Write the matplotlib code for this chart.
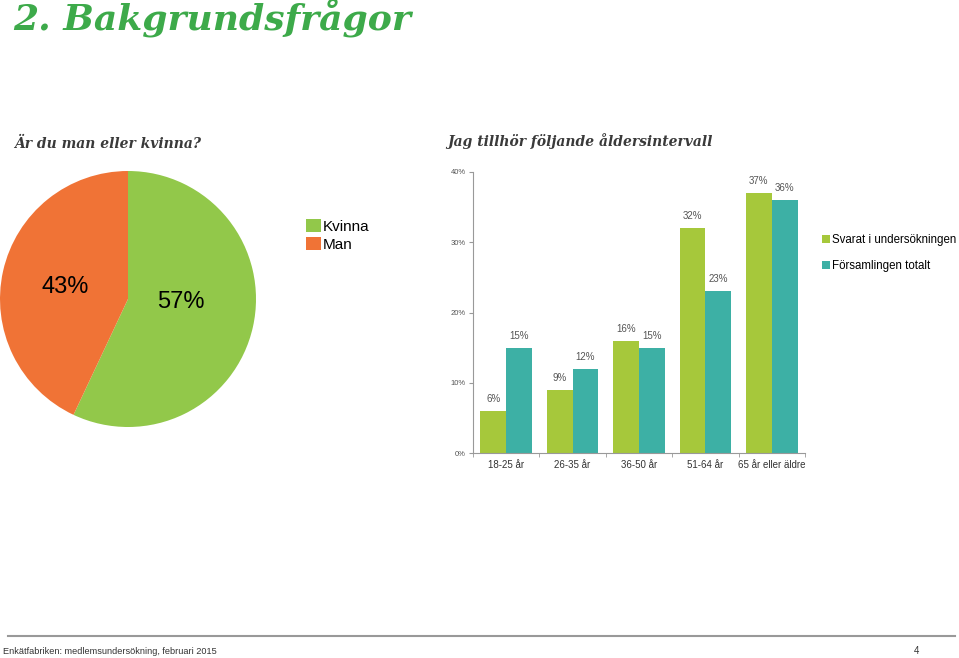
import matplotlib.pyplot as plt
import numpy as np

# data
pie_labels = ["Kvinna", "Man"]
pie_values = [57, 43]
pie_colors = ["#92C84A", "#F07336"]

age_groups = ["18-25 år", "26-35 år", "36-50 år", "51-64 år", "65 år eller äldre"]
svarat = [6, 9, 16, 32, 37]
forsamlingen = [15, 12, 15, 23, 36]
series_names = ["Svarat i undersökningen", "Församlingen totalt"]
bar_colors = ["#A6C83B", "#3DB0A5"]
y_ticks = [0, 10, 20, 30, 40]

W, H = 959, 658
plt.rcParams["font.family"] = ["Liberation Sans", "DejaVu Sans"]
fig = plt.figure(figsize=(W / 100, H / 100), dpi=100)

def fx(px):
    return px / W

def fy(py):
    return 1 - py / H

# headings
serif = ["DejaVu Serif"]
fig.text(fx(13), fy(31), "2. Bakgrundsfrågor", family=serif, style="italic", weight="heavy",
         fontsize=26, color="#3DAA4A", va="baseline", ha="left")
fig.text(fx(14), fy(148), "Är du man eller kvinna?", family=serif, style="italic", weight="bold",
         fontsize=10, color="#3a3a3a", va="baseline", ha="left")
fig.text(fx(447), fy(146), "Jag tillhör följande åldersintervall", family=serif, style="italic",
         weight="bold", fontsize=10, color="#3a3a3a", va="baseline", ha="left")

# pie chart
ax_pie = fig.add_axes([fx(0), fy(427), fx(256), 256 / H])
wedges, _ = ax_pie.pie(pie_values, colors=pie_colors, startangle=90, counterclock=False,
                       wedgeprops=dict(linewidth=0))
ax_pie.set_xlim(-1, 1)
ax_pie.set_ylim(-1, 1)
ax_pie.set_aspect("equal")
fig.text(fx(181), fy(302), f"{pie_values[0]}%", fontsize=17, ha="center", va="center")
fig.text(fx(65), fy(287), f"{pie_values[1]}%", fontsize=17, ha="center", va="center")
ax_pie.legend(wedges, pie_labels, loc="upper left", bbox_to_anchor=(fx(298), fy(211)),
              bbox_transform=fig.transFigure, frameon=False, fontsize=11,
              handlelength=1.0, handleheight=1.0, handletextpad=0.15, labelspacing=0.2,
              borderpad=0)

# bar chart
ax = fig.add_axes([fx(473), fy(453), fx(805) - fx(473), (453 - 172) / H])
x = np.arange(len(age_groups))
w = 0.39
b1 = ax.bar(x - w / 2, svarat, w, color=bar_colors[0], label=series_names[0])
b2 = ax.bar(x + w / 2, forsamlingen, w, color=bar_colors[1], label=series_names[1])
for bars in (b1, b2):
    for r in bars:
        ax.text(r.get_x() + r.get_width() / 2, r.get_height() + 1.0, f"{r.get_height():.0f}%",
                ha="center", va="bottom", fontsize=7, color="#555555")

ax.set_xlim(-0.5, len(age_groups) - 0.5)
ax.set_ylim(0, 40)
ax.set_yticks(y_ticks)
ax.set_yticklabels([f"{t}%" for t in y_ticks], fontsize=5.5, color="#555555")
ax.set_xticks(x)
ax.set_xticklabels(age_groups, fontsize=7, color="#333333")
ax.set_xticks(np.arange(-0.5, len(age_groups)), minor=True)
ax.tick_params(axis="x", which="major", length=0, pad=5)
ax.tick_params(axis="x", which="minor", length=3, color="#999999")
ax.tick_params(axis="y", length=3, color="#999999", pad=2)
for s in ["top", "right"]:
    ax.spines[s].set_visible(False)
for s in ["left", "bottom"]:
    ax.spines[s].set_color("#999999")
    ax.spines[s].set_linewidth(0.8)
ax.legend(loc="upper left", bbox_to_anchor=(fx(816), fy(228)), bbox_transform=fig.transFigure,
          frameon=False, fontsize=8.3, handlelength=0.7, handleheight=0.7, handletextpad=0.2,
          labelspacing=1.25, borderpad=0)

# footer
fig.add_artist(plt.Line2D([fx(8), fx(955)], [fy(636), fy(636)], color="#999999", linewidth=1.5))
fig.text(fx(3), fy(651), "Enkätfabriken: medlemsundersökning, februari 2015", fontsize=6.6,
         color="#333333", va="center", ha="left")
fig.text(fx(917), fy(651), "4", fontsize=7, color="#333333", va="center", ha="center")

fig.savefig("out.png", dpi=100)
